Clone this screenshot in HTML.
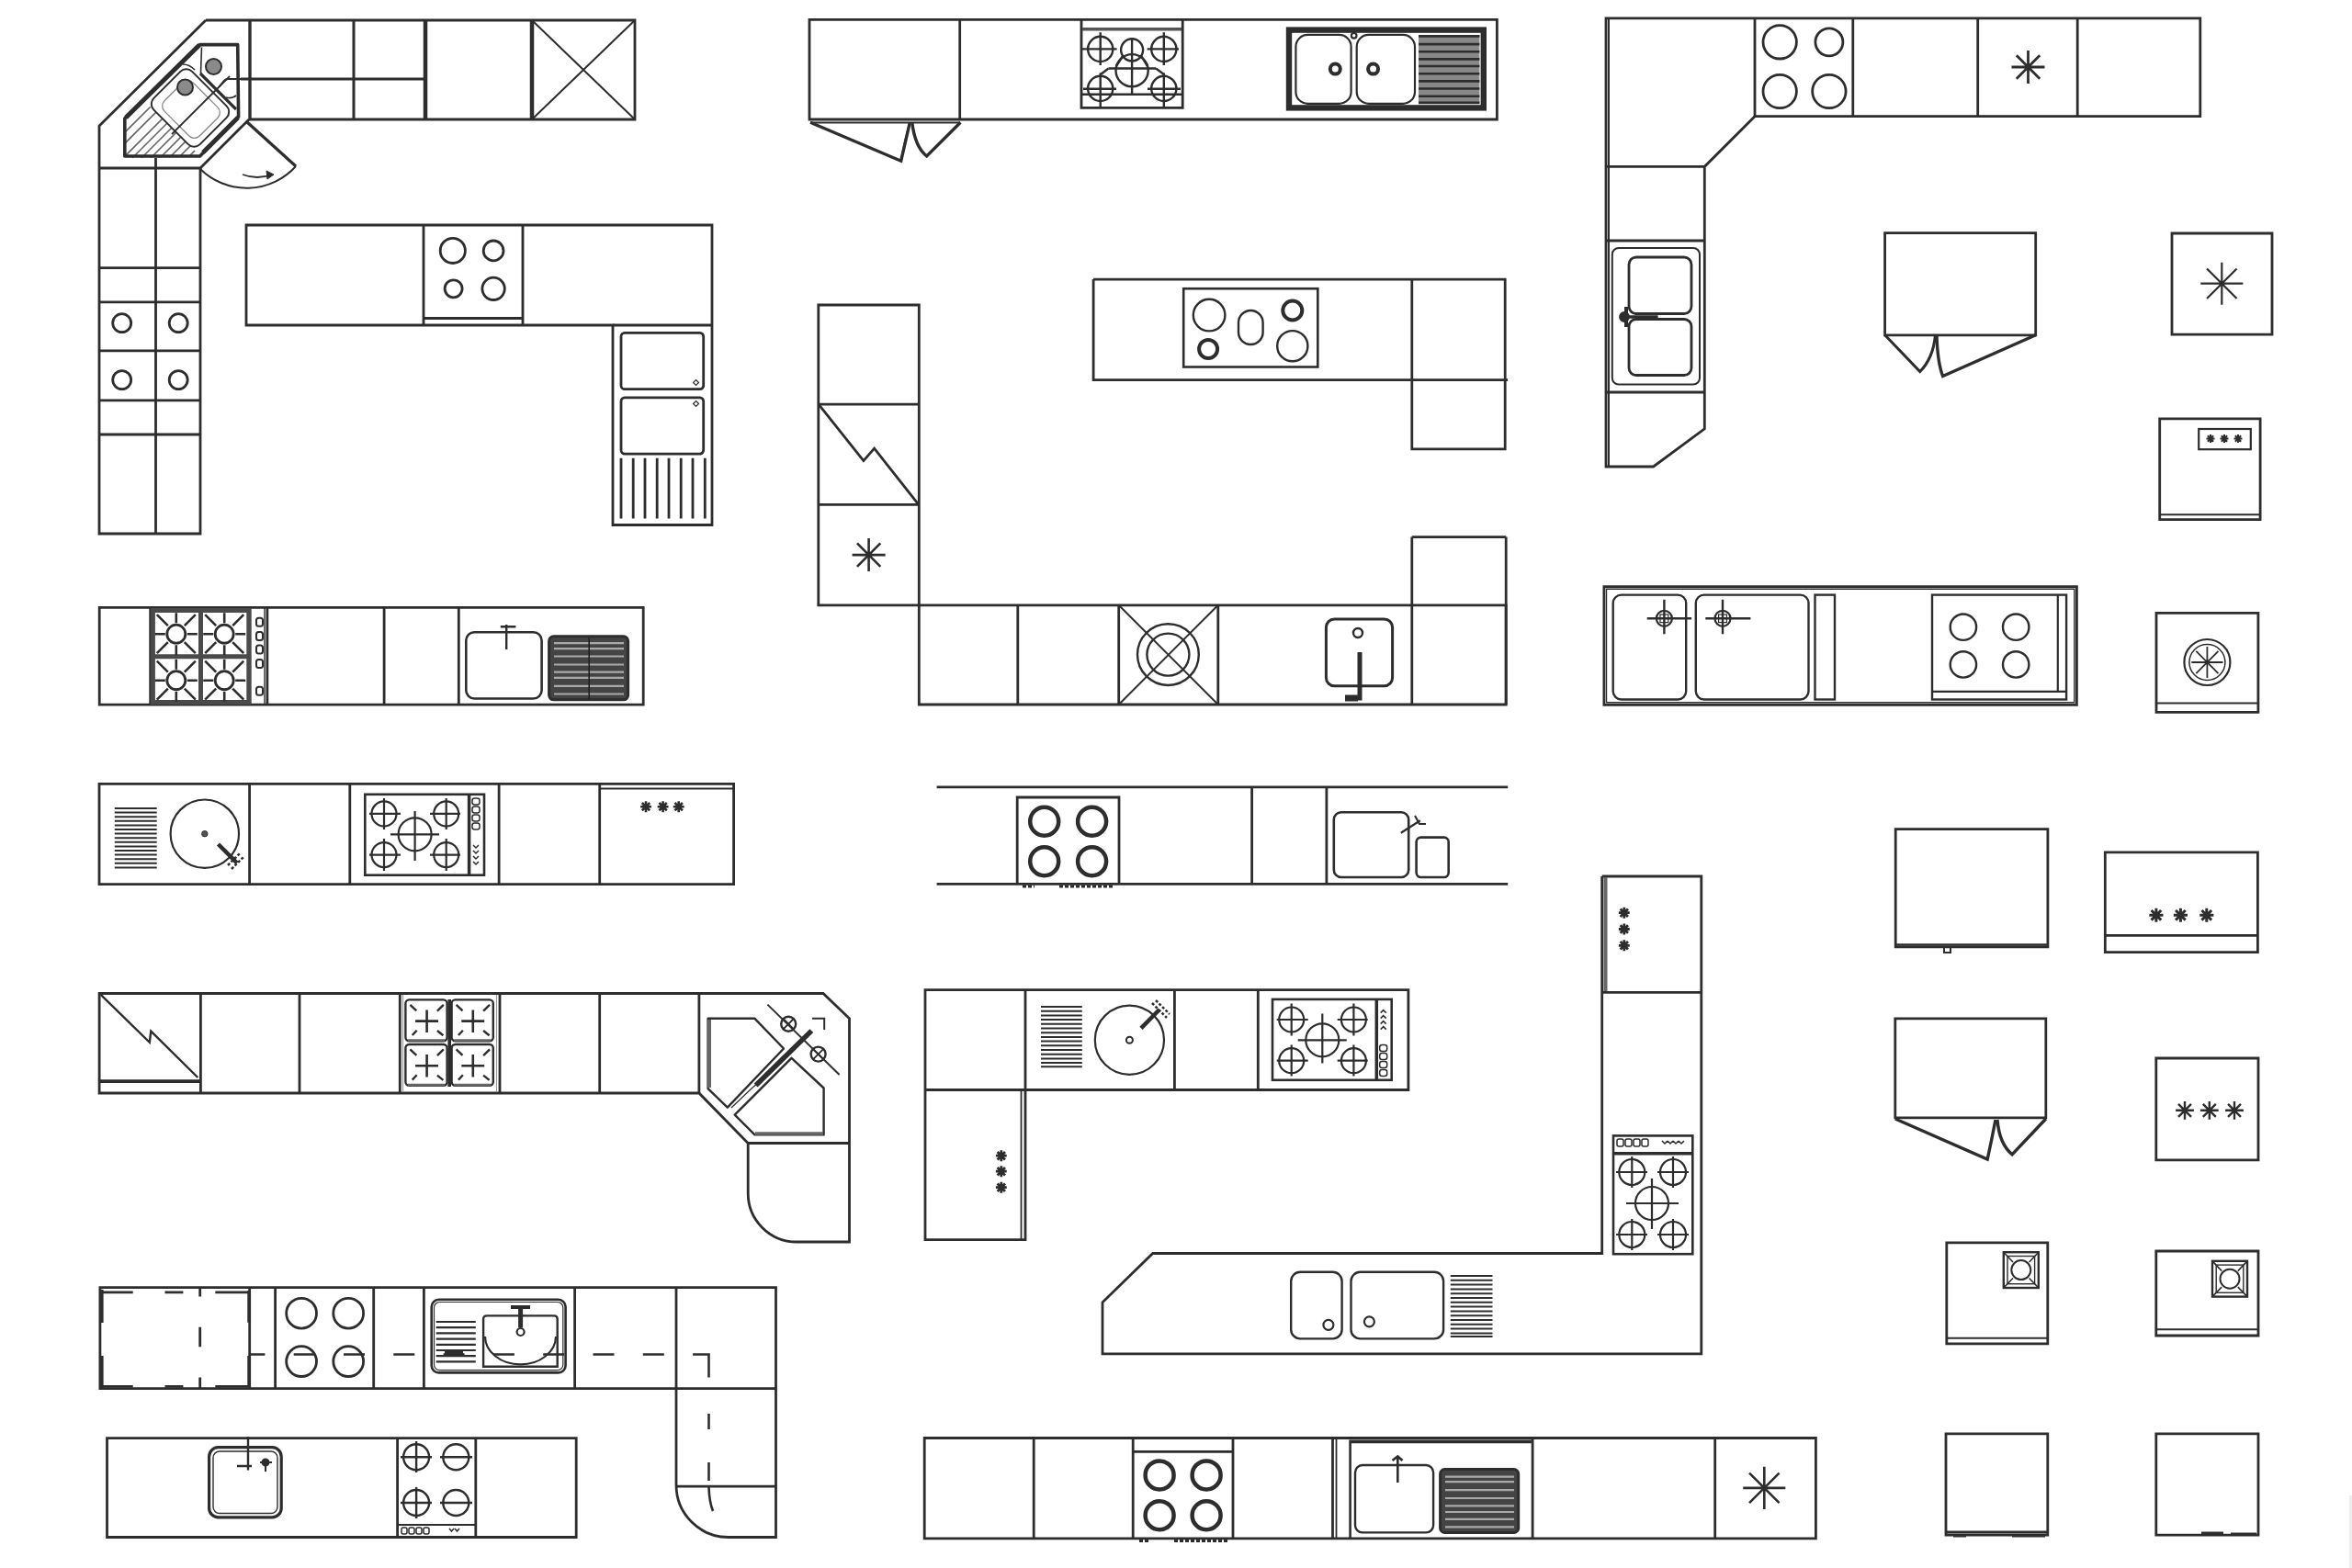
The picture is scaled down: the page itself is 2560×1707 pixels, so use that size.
<!DOCTYPE html>
<html><head><meta charset="utf-8">
<style>
html,body{margin:0;padding:0;background:#fff;width:2560px;height:1707px;overflow:hidden;font-family:"Liberation Sans",sans-serif;}
svg{display:block;position:absolute;left:0;top:0;}
</style></head>
<body>
<svg width="2560" height="1707" viewBox="0 0 2560 1707">
<defs>
<g id="ast"><path vector-effect="non-scaling-stroke" d="M0 -18V18M-18 0H18M-12.7 -12.7L12.7 12.7M-12.7 12.7L12.7 -12.7"/></g>
<g id="burnX"><circle r="13"/><path d="M0 -17V17M-17 0H17"/></g>
</defs>
<g fill="none" stroke="#2d2d2d" stroke-width="2.8" stroke-linejoin="miter">

<!-- ===== A: top-left L with corner sink ===== -->
<path d="M224 22H691V130H271M224 22L108 137V581H218V183"/>
<path d="M271 130L218 183M108 183H218"/>
<path d="M272 22V130" stroke-width="3.4"/>
<path d="M385 22V130" stroke-width="3"/>
<path d="M463 22V130" stroke-width="4.5"/>
<path d="M579 22V130" stroke-width="4.5"/>
<path d="M262 86H463"/>
<path d="M579 22L691 130M691 22L579 130" stroke-width="2"/>
<!-- door -->
<path d="M269 133L322 181" stroke-width="3.2"/>
<path d="M322 181A72 72 0 0 1 218 184" stroke-width="2"/>
<path d="M264 190Q280 196 296 190" stroke-width="1.8"/>
<path d="M290 186L298 190L291 195Z" fill="#2a2a2a" stroke-width="1"/>
<!-- corner sink -->
<clipPath id="hatchA"><path d="M136 129L161 114L212 164L218 170L136 173Z"/></clipPath>
<g clip-path="url(#hatchA)" stroke="#666" stroke-width="1.6">
<path d="M130 150L170 110M130 162L180 112M134 172L190 116M144 172L200 116M154 172L210 116M164 172L220 116M174 172L230 116M184 172L240 116M194 172L250 116M204 172L260 116"/>
</g>
<path d="M217.6 48.6H258.7L259.6 127L217.6 170H135.8V129Z" stroke-width="3.6" stroke-linejoin="round"/>
<path d="M137 128L217 49" stroke-width="5"/>
<path d="M221 166L259 128" stroke-width="5"/>
<path d="M219.5 51.5L218.5 80" stroke-width="1.6"/>
<rect x="-35.5" y="-29.5" width="71" height="59" rx="9" transform="translate(207 117.5) rotate(45)" stroke-width="2"/>
<rect x="-27" y="-22" width="54" height="44" rx="8" transform="translate(208 119) rotate(45)" stroke-width="1.3" stroke="#888"/>
<path d="M187 146L250 83" stroke-width="1.8"/>
<path d="M218 80L257 119" stroke-width="3.2"/>
<path d="M199 70Q206 70 212 76" stroke-width="1.6"/>
<path d="M280 86H248Q245 86 242 90L238 95M246 106Q252 108 257 104" stroke-width="1.8"/>
<circle cx="232.5" cy="72.5" r="8.5" fill="#8a8a8a" stroke-width="2"/>
<circle cx="201.5" cy="95" r="8.5" fill="#8a8a8a" stroke-width="2"/>
<!-- left column -->
<path d="M169.5 172V581"/>
<path d="M108 291.6H218M108 328.8H218M108 381.9H218M108 435.9H218M108 473H218" />
<circle cx="132.7" cy="351.7" r="10"/><circle cx="194.2" cy="351.7" r="10"/>
<circle cx="132.7" cy="413.6" r="10"/><circle cx="194.2" cy="413.6" r="10"/>

<!-- ===== B: counter with hob + sink return ===== -->
<path d="M268 245H775V571.5H667V354H268Z"/>
<path d="M667 354H775"/>
<path d="M461 245V354M569 245V354M461 346.5H569"/>
<circle cx="492.8" cy="272.9" r="13.6"/><circle cx="537.1" cy="272.9" r="10.9"/>
<circle cx="493.6" cy="314.3" r="9.5"/><circle cx="537.1" cy="314.3" r="12.2"/>
<rect x="676" y="362.4" width="89.7" height="61.3" rx="4"/>
<rect x="676" y="432.9" width="89.7" height="61.2" rx="4"/>
<path d="M757.5 413.5l3 3l-3 3l-3 -3zM757.5 436.5l3 3l-3 3l-3 -3z" stroke-width="1.2"/>
<path d="M676 498.7V564.5M689.2 498.7V564.5M702 498.7V564.5M715.2 498.7V564.5M728 498.7V564.5M741.2 498.7V564.5M754 498.7V564.5M767.3 498.7V564.5"/>

<!-- ===== C: top middle counter ===== -->
<path d="M881 21.4H1629.4V130H881Z"/>
<path d="M1044.7 21.4V130"/>
<path d="M882 133.5H1045" stroke-width="2"/>
<path d="M882 133.3L980.7 175.2L990.3 133.3" stroke-width="3.4"/>
<path d="M992.7 133.3Q996 160 1008.6 170L1045.4 133.3" stroke-width="3.4"/>
<path d="M980.7 175Q985 150 990.3 134" stroke-width="1.6"/>
<!-- hob -->
<path d="M1177 21.7V117.4H1287.2V21.7"/>
<path d="M1178 31.8H1286" stroke-width="3.6" stroke="#555"/>
<path d="M1177 102.7H1287.2" stroke-width="2.4"/>
<g stroke-width="2.4">
<circle cx="1197.7" cy="53.4" r="13.6"/><path d="M1197.7 35.3V71.1M1177.7 53.4H1215.6"/>
<circle cx="1266.8" cy="53.4" r="13.6"/><path d="M1266.8 35.3V71.1M1248.6 53.4H1283"/>
<circle cx="1232.1" cy="54.3" r="12"/>
<circle cx="1232.1" cy="76.7" r="17.6"/><path d="M1232.1 43V102.7M1206.5 74.5H1258.1"/>
<circle cx="1197.7" cy="96.4" r="13.6"/><path d="M1197.7 79.5V116M1179 96.7H1215"/>
<circle cx="1266.8" cy="96.4" r="13.6"/><path d="M1266.8 79.5V116M1249 96.7H1285"/>
<path d="M1206.5 74.5L1198 81M1258.1 74.5L1267 81M1222.6 60L1215 72M1241.6 60L1249 72"/>
</g>
<!-- double sink -->
<rect x="1403" y="32.6" width="211.8" height="84.8" stroke-width="6.4"/>
<rect x="1544" y="38" width="66.4" height="75.4" fill="#888" stroke="none"/>
<path d="M1544 39.4H1610.4M1544 48.1H1610.4M1544 56.2H1610.4M1544 64.4H1610.4M1544 72H1610.4M1544 80.2H1610.4M1544 88.4H1610.4M1544 96.5H1610.4M1544 104.7H1610.4M1544 111.8H1610.4" stroke-width="2.6"/>
<rect x="1410.4" y="37.9" width="60.2" height="75" rx="13" stroke-width="2.2"/>
<rect x="1476.7" y="37.9" width="63.3" height="75" rx="13" stroke-width="2.2"/>
<circle cx="1453.3" cy="75.1" r="5.5" stroke-width="4"/>
<circle cx="1494.6" cy="75.1" r="5.5" stroke-width="4"/>
<circle cx="1473.7" cy="38.8" r="2.8" stroke-width="2.2"/>

<!-- ===== D: top right L ===== -->
<path d="M1748 19.9H2394.8V126.7H1910L1855.3 181.4V466.9L1799.6 508H1748Z"/>
<path d="M1751 21V507" stroke-width="2"/>
<path d="M1910 19.9V126.7M2016.8 19.9V126.7M2152.7 19.9V126.7M2261.2 19.9V126.7"/>
<path d="M1748 181.4H1855.3M1748 262H1855.3M1748 427H1855.3"/>
<circle cx="1937.2" cy="45.8" r="18.2"/><circle cx="1990.9" cy="45.8" r="15"/>
<circle cx="1937.2" cy="99.5" r="18.2"/><circle cx="1990.9" cy="99.5" r="18.2"/>
<use href="#ast" transform="translate(2207.5 73)" stroke-width="2.8"/>
<rect x="1754.8" y="270" width="95.2" height="148.5" rx="7" stroke-width="2"/>
<rect x="1773" y="280" width="68" height="61.5" rx="8"/>
<rect x="1773" y="347.5" width="68" height="61" rx="8"/>
<path d="M1768 345H1804.6" stroke-width="3.5"/>
<circle cx="1768" cy="345" r="4.5" fill="#2a2a2a"/>
<path d="M1770 334V356" stroke-width="4"/>

<!-- ===== E: right column top ===== -->
<path d="M2051.6 253.7H2215.7V364.8H2051.6Z"/>
<path d="M2051.6 364.8L2089.8 404.5Q2104 390 2106.3 366" stroke-width="3"/>
<path d="M2108 366Q2109 395 2114.6 409.5L2215.7 364.8" stroke-width="3.4"/>
<path d="M2364 254H2473V364.2H2364Z"/>
<use href="#ast" transform="translate(2418.3 308.7) scale(1.28)" stroke-width="2.2"/>
<path d="M2350.7 455.9H2460.1V565.7H2350.7Z"/>
<path d="M2350.7 560.2H2460.1" stroke-width="2"/>
<rect x="2393.2" y="467" width="56.6" height="22.2" stroke-width="2.2"/>
<g stroke-width="2"><use href="#ast" transform="translate(2406 477.5) scale(.25)"/><use href="#ast" transform="translate(2421 477.5) scale(.25)"/><use href="#ast" transform="translate(2436 477.5) scale(.25)"/></g>
<path d="M2347 667.4H2457.9V775.4H2347Z"/>
<path d="M2347 765.4H2457.9" stroke-width="2"/>
<circle cx="2402.4" cy="721" r="25" stroke-width="2.2"/>
<circle cx="2402.4" cy="721" r="19.5" stroke-width="1.5"/>
<use href="#ast" transform="translate(2402.4 721) scale(.95)" stroke-width="1.8"/>


<!-- ===== F: middle U ===== -->
<path d="M890.8 332H1000.3V658.8H890.8Z"/>
<path d="M890.8 440.2H1000.3M890.8 549.3H1000.3"/>
<path d="M891.8 441.2L939.9 501.6L951.6 488.2L999.3 548.6"/>
<use href="#ast" transform="translate(945.6 604.1)" stroke-width="2.6"/>
<path d="M1000.3 658.8H1639.2V767H1000.3Z"/>
<path d="M1107.8 658.8V767M1217.7 658.8V767M1325.8 658.8V767M1536.8 584.6V767M1639.2 584.6V767M1536.8 584.6H1639.2"/>
<path d="M1217.7 658.8L1325.8 767M1325.8 658.8L1217.7 767" stroke-width="2"/>
<circle cx="1271.4" cy="712.6" r="33.4" stroke-width="2.4"/>
<circle cx="1271.4" cy="712.6" r="23" stroke-width="2.4"/>
<rect x="1443.4" y="674" width="72.2" height="72.8" rx="9" stroke-width="3"/>
<circle cx="1478" cy="689" r="5" stroke-width="2.4"/>
<path d="M1480 710V760H1464" stroke-width="5"/>
<path d="M1464 760H1478" stroke-width="7"/>
<!-- island with hob -->
<path d="M1190.1 304.1H1638.2V488.9H1536.8V304.1M1190.1 304.1V413.6H1641"/>
<rect x="1288.2" y="314.2" width="146.1" height="85.3" stroke-width="2.6"/>
<circle cx="1316.1" cy="343.1" r="17.3" stroke-width="2.4"/>
<circle cx="1406.8" cy="338" r="10.5" stroke-width="4"/>
<circle cx="1315.1" cy="380" r="10" stroke-width="4"/>
<circle cx="1406.8" cy="376.7" r="16.6" stroke-width="2.4"/>
<rect x="1348" y="338" width="26.6" height="37" rx="13.3" stroke-width="2.4"/>

<!-- ===== G: row 3 left ===== -->
<path d="M108.2 661.4H700.2V767.2H108.2Z"/>
<path d="M163.7 661.4V767.2M272.1 661.4V767.2M290.9 661.4V767.2M418.1 661.4V767.2M499.3 661.4V767.2"/>
<rect x="166.4" y="664.5" width="104.4" height="100" stroke="#4a4a4a" stroke-width="5"/>
<path d="M218.5 664.5V764.5M166.4 714.7H270.8" stroke="#4a4a4a" stroke-width="5"/>
<circle cx="191.8" cy="690.2" r="10" stroke-width="2.8"/>
<circle cx="244.2" cy="690.2" r="10" stroke-width="2.8"/>
<circle cx="191.8" cy="740.7" r="10" stroke-width="2.8"/>
<circle cx="244.2" cy="740.7" r="10" stroke-width="2.8"/>
<path d="M191.8 667.2V678.2M191.8 702.2V713.2M168.8 690.2H179.8M203.8 690.2H214.8M170.8 669.2L182.8 681.2M212.8 669.2L200.8 681.2M170.8 711.2L182.8 699.2M212.8 711.2L200.8 699.2M244.2 667.2V678.2M244.2 702.2V713.2M221.2 690.2H232.2M256.2 690.2H267.2M223.2 669.2L235.2 681.2M265.2 669.2L253.2 681.2M223.2 711.2L235.2 699.2M265.2 711.2L253.2 699.2M191.8 717.7V728.7M191.8 752.7V763.7M168.8 740.7H179.8M203.8 740.7H214.8M170.8 719.7L182.8 731.7M212.8 719.7L200.8 731.7M170.8 761.7L182.8 749.7M212.8 761.7L200.8 749.7M244.2 717.7V728.7M244.2 752.7V763.7M221.2 740.7H232.2M256.2 740.7H267.2M223.2 719.7L235.2 731.7M265.2 719.7L253.2 731.7M223.2 761.7L235.2 749.7M265.2 761.7L253.2 749.7" stroke-width="2.6"/>
<g stroke-width="2"><rect x="279" y="672.7" width="7" height="9" rx="2.5"/><rect x="279" y="688.0" width="7" height="9" rx="2.5"/><rect x="279" y="702.6" width="7" height="9" rx="2.5"/><rect x="279" y="717.9" width="7" height="9" rx="2.5"/><rect x="279" y="747.7" width="7" height="9" rx="2.5"/></g>
<path d="M288 661.4V767.2" stroke-width="1.4"/>
<rect x="507.3" y="688.2" width="82.3" height="72.3" rx="9" stroke-width="2.6"/>
<path d="M551.2 680V707M544.8 682.3H561.4" stroke-width="2.4"/>
<rect x="597.6" y="692.8" width="86" height="69" rx="5" stroke-width="3" fill="#444"/>
<g stroke-width="2.2" stroke="#aaa">
<path d="M603 700.2H679M603 706.1H679M603 714.5H679M603 723.5H679M603 731.6H679M603 737.8H679M603 746.8H679M603 755.5H679"/>
</g>
<path d="M641.2 694V761" stroke-width="1.6" stroke="#222"/>


<!-- ===== H: row 4 left ===== -->
<path d="M108 853.3H798.6V962.6H108Z"/>
<path d="M271.6 853.3V962.6M380.8 853.3V962.6M543.1 853.3V962.6M652.7 853.3V962.6"/>
<path d="M652.7 858.6H798.6" stroke-width="2"/>
<path d="M124.8 880H170.7M124.8 884.6H170.7M124.8 889.2H170.7M124.8 893.8H170.7M124.8 898.4H170.7M124.8 903H170.7M124.8 907.6H170.7M124.8 912.2H170.7M124.8 916.8H170.7M124.8 921.4H170.7M124.8 926H170.7M124.8 930.6H170.7M124.8 935.2H170.7M124.8 939.8H170.7M124.8 944.4H170.7" stroke-width="2"/>
<circle cx="222.8" cy="907.7" r="37.2" stroke-width="2.2"/>
<circle cx="222.8" cy="907.7" r="3.2" fill="#555" stroke-width="1"/>
<path d="M237.5 919L258 939.5" stroke-width="4.5"/>
<path d="M252 946L266 932M248 942L262 928" stroke-width="2.5" stroke-dasharray="3 2"/>
<g id="hob5">
<rect x="397.3" y="864.8" width="129.7" height="87.9" stroke-width="2.6"/>
<path d="M510.6 864.8V952.7" stroke-width="3.5"/>
<g stroke-width="2.2">
<circle cx="418" cy="885.9" r="13.5"/><path d="M418 869V903M402 885.9H436"/>
<circle cx="485.7" cy="885.9" r="13.5"/><path d="M485.7 869V903M468 885.9H501"/>
<circle cx="451.6" cy="908.3" r="18"/><path d="M451.6 883V937M425 908.3H478"/>
<circle cx="418" cy="930.6" r="13.5"/><path d="M418 913V948M402 930.6H436"/>
<circle cx="485.7" cy="930.6" r="13.5"/><path d="M485.7 913V948M468 930.6H501"/>
</g>
<g stroke-width="1.5">
<rect x="514" y="869" width="8" height="7" rx="2.5"/><rect x="514" y="878" width="8" height="7" rx="2.5"/>
<rect x="514" y="887" width="8" height="7" rx="2.5"/><rect x="514" y="896" width="8" height="7" rx="2.5"/>
<path d="M515 920l3 3l3 -3M515 926l3 3l3 -3M515 932l3 3l3 -3M515 938l3 3l3 -3"/>
</g>
</g>
<g stroke-width="2.6"><use href="#ast" transform="translate(703 878.2) scale(.33)"/><use href="#ast" transform="translate(721.6 878.2) scale(.33)"/><use href="#ast" transform="translate(738.7 878.2) scale(.33)"/></g>

<!-- ===== I: row 4 middle ===== -->
<path d="M1019.6 856.8H1641.2M1019.6 962.3H1641.2"/>
<path d="M1362.6 856.8V962.3M1443.9 856.8V962.3"/>
<path d="M1107.2 962V868H1218V962"/>
<g stroke-width="4.5">
<circle cx="1136.7" cy="894.2" r="15.5"/><circle cx="1188.6" cy="894.2" r="15.5"/>
<circle cx="1136.7" cy="937.7" r="15.5"/><circle cx="1188.6" cy="937.7" r="15.5"/>
</g>
<path d="M1113 965H1126M1153 965H1213" stroke-width="3" stroke-dasharray="4 2"/>
<rect x="1451.8" y="884.3" width="81.4" height="70.7" rx="8" stroke-width="2.6"/>
<rect x="1541.6" y="911.6" width="35.1" height="43.4" rx="5" stroke-width="2.6"/>
<path d="M1524.8 906.8L1545.8 893.3M1540 888L1545 897L1552 897" stroke-width="2.2"/>

<!-- ===== J: right column mid ===== -->
<path d="M2063.2 902.6H2228.9V1030.9H2063.2Z"/>
<path d="M2063.2 1028.5H2228.9" stroke-width="2.5"/>
<path d="M2116 1030.5V1037H2123V1030.5" stroke-width="2"/>
<path d="M2291.3 927.8H2457.4V1036.7H2291.3Z"/>
<path d="M2291.3 1018.3H2457.4"/>
<g stroke-width="3"><use href="#ast" transform="translate(2346.9 996.3) scale(.42)"/><use href="#ast" transform="translate(2373.4 996.3) scale(.42)"/><use href="#ast" transform="translate(2401.8 996.3) scale(.42)"/></g>


<!-- ===== K: row 5 left L with corner sink ===== -->
<path d="M108.1 1081.5H896L924.5 1108.8V1352H867A53 53 0 0 1 814.2 1299V1244.5L760.9 1190H108.1Z"/>
<path d="M814.2 1244.5H924.5" stroke-width="3.2"/>
<path d="M218.4 1081.5V1190.1M326 1081.5V1190.1M435.3 1081.5V1190.1M544 1081.5V1190.1M652.7 1081.5V1190.1M760.9 1081.5V1190.1"/>
<path d="M109.7 1082.8L162.8 1134.8L164.3 1122.6L215.3 1173" stroke-width="2.4"/>
<path d="M108.1 1177.1H217.2" stroke-width="3.8"/>
<path d="M438.5 1083V1189M540.5 1083V1189" stroke-width="1.2" stroke="#999"/>
<g id="sq1">
<rect x="441.4" y="1088.4" width="45.2" height="44.8" rx="4" stroke-width="2.4"/>
<path d="M444 1132.5H484" stroke-width="2.6" stroke="#666"/>
<path d="M452.1 1111.6H477M464.6 1099.5V1124" stroke-width="2.6"/>
<path d="M446.4 1093.8L453.3 1100.3M482.8 1093.8L475.9 1100.6M453.7 1121.7L448.7 1127M475.9 1122L482.4 1127.3" stroke-width="2.4"/>
</g>
<use href="#sq1" transform="translate(50.2 0)"/>
<use href="#sq1" transform="translate(0 48.6)"/>
<use href="#sq1" transform="translate(50.2 48.6)"/>
<path d="M489.2 1088V1183" stroke-width="3.6"/>
<path d="M770.6 1108.8H821.5L853 1141.5L791.8 1205.7L770.6 1185.1Z" stroke-width="2.4" stroke-linejoin="round"/>
<path d="M772 1110V1184" stroke-width="4" stroke="#666"/>
<path d="M861.5 1151.8L896.6 1184.5V1235.4H821.5L799.7 1213.6Z" stroke-width="2.4" stroke-linejoin="round"/>
<path d="M822 1234H896" stroke-width="3.5" stroke="#666"/>
<path d="M822.7 1181.5L883.3 1122.1" stroke-width="5.5"/>
<path d="M818 1185L826 1178M796 1206L818 1185" stroke-width="1.2"/>
<path d="M835.4 1093.6L913.6 1170" stroke-width="2"/>
<circle cx="858.2" cy="1114.8" r="8" stroke-width="2.4"/>
<path d="M852.5 1109l11.4 11.4M863.9 1109l-11.4 11.4" stroke-width="1.8"/>
<circle cx="890.6" cy="1147.6" r="8" stroke-width="2.4"/>
<path d="M884.9 1141.9l11.4 11.4M896.3 1141.9l-11.4 11.4" stroke-width="1.8"/>
<path d="M883.9 1108.8H897.2V1120.9" stroke-width="2"/>

<!-- ===== L: row 5 middle L ===== -->
<path d="M1007 1077.7H1532.9V1186.5H1116V1349.6H1007Z"/>
<path d="M1007 1186.5H1116M1116 1077.7V1186.5M1278.4 1077.7V1186.5M1369.3 1077.7V1186.5"/>
<path d="M1111.5 1186.5V1349.6" stroke-width="1.8"/>
<g stroke-width="2.8"><use href="#ast" transform="translate(1089.8 1258.2) scale(.33)"/><use href="#ast" transform="translate(1089.8 1275.2) scale(.33)"/><use href="#ast" transform="translate(1089.8 1292.7) scale(.33)"/></g>
<path d="M1133 1096H1177.8M1133 1100.7H1177.8M1133 1105.4H1177.8M1133 1110.1H1177.8M1133 1114.8H1177.8M1133 1119.5H1177.8M1133 1124.2H1177.8M1133 1128.9H1177.8M1133 1133.6H1177.8M1133 1138.3H1177.8M1133 1143H1177.8M1133 1147.7H1177.8M1133 1152.4H1177.8M1133 1157.1H1177.8M1133 1161.3H1177.8" stroke-width="2"/>
<circle cx="1229.4" cy="1132.2" r="37.6" stroke-width="2.2"/>
<circle cx="1229.4" cy="1132.2" r="3.5" stroke-width="2"/>
<path d="M1242 1119.4L1262 1099" stroke-width="4.5"/>
<path d="M1254 1092L1270 1108M1258 1089L1273 1104" stroke-width="2.5" stroke-dasharray="3 2"/>
<use href="#hob5" transform="translate(987.7 2040.6) scale(1 -1)"/>

<!-- ===== M: big right L ===== -->
<path d="M1743.7 954H1851.8V1473.9H1200V1417.8L1254.7 1364.5H1743.7V954"/>
<path d="M1743.7 1080.3H1851.8"/>
<path d="M1747.5 955V1079" stroke-width="4" stroke="#666"/>
<g stroke-width="2.8"><use href="#ast" transform="translate(1767.8 993.7) scale(.33)"/><use href="#ast" transform="translate(1767.8 1011.5) scale(.33)"/><use href="#ast" transform="translate(1767.8 1029.3) scale(.33)"/></g>
<rect x="1756" y="1236.4" width="86.3" height="128.8" stroke-width="2.6"/>
<path d="M1756 1255.7H1842.3" stroke-width="3.5"/>
<g stroke-width="1.5">
<rect x="1760" y="1240" width="7" height="8" rx="2"/><rect x="1769" y="1240" width="7" height="8" rx="2"/><rect x="1778" y="1240" width="7" height="8" rx="2"/><rect x="1787" y="1240" width="7" height="8" rx="2"/>
<path d="M1809 1242l3 3l3 -3M1815 1242l3 3l3 -3M1821 1242l3 3l3 -3M1827 1242l3 3l3 -3"/>
</g>
<g stroke-width="2.2">
<circle cx="1776.3" cy="1276" r="14"/><path d="M1776.3 1259V1293M1759 1276H1793"/>
<circle cx="1821" cy="1276" r="14"/><path d="M1821 1259V1293M1804 1276H1838"/>
<circle cx="1798" cy="1310" r="18"/><path d="M1798 1283V1338M1770 1310H1827"/>
<circle cx="1776.3" cy="1344" r="14"/><path d="M1776.3 1327V1361M1759 1344H1793"/>
<circle cx="1821" cy="1344" r="14"/><path d="M1821 1327V1361M1804 1344H1838"/>
</g>
<rect x="1405.2" y="1384.8" width="55.4" height="72.6" rx="10" stroke-width="2.4"/>
<rect x="1470.5" y="1384.8" width="100.6" height="72.6" rx="10" stroke-width="2.4"/>
<circle cx="1445.9" cy="1442.3" r="5.5" stroke-width="2.2"/>
<circle cx="1490.4" cy="1438.8" r="5.5" stroke-width="2.2"/>
<path d="M1578.8 1389H1624.5M1578.8 1393.8H1624.5M1578.8 1398.6H1624.5M1578.8 1403.4H1624.5M1578.8 1408.2H1624.5M1578.8 1413H1624.5M1578.8 1417.8H1624.5M1578.8 1422.6H1624.5M1578.8 1427.4H1624.5M1578.8 1432.2H1624.5M1578.8 1437H1624.5M1578.8 1441.8H1624.5M1578.8 1446.6H1624.5M1578.8 1451.4H1624.5M1578.8 1455H1624.5" stroke-width="2"/>


<!-- ===== N: row 6 left L ===== -->
<path d="M108.9 1401.6H844.5V1673.5H793A57 57 0 0 1 736 1616.5V1511.7H108.9Z"/>
<path d="M736 1618.1H844.5M736 1401.6V1511.7H844.5"/>
<path d="M271.7 1401.6V1511.7M299.6 1401.6V1511.7M406.7 1401.6V1511.7M461.4 1401.6V1511.7M625.6 1401.6V1511.7"/>
<g stroke-width="2.8">
<path d="M110.6 1406.9H144.7M179.5 1406.9H199.4M234.3 1406.9H270.7M110.6 1509.3H144.7M179.5 1509.3H199.4M234.3 1509.3H270.7"/>
<path d="M270.7 1404.9V1439.7M270.7 1476V1509.3"/>
<path d="M217.7 1401.6V1411.5M217.7 1444.7V1466.2M217.7 1499.4V1511"/>
<path d="M110.6 1404V1440M110.6 1476V1511" stroke-width="4"/>
</g>
<path d="M271.7 1474.5H757" stroke-width="2.6" stroke-dasharray="23 31.3" stroke-dashoffset="6.3"/>
<path d="M757 1474.5H771.5V1499.4M771.5 1539V1556M771.5 1592V1612M771.5 1619Q772 1635 776 1645" stroke-width="2.6"/>
<circle cx="328.1" cy="1429.7" r="16.4"/><circle cx="379.2" cy="1429.7" r="16.4"/>
<circle cx="328.1" cy="1482.1" r="16.4"/><circle cx="379.2" cy="1482.1" r="16.4"/>
<rect x="469.7" y="1414.8" width="145.9" height="79.6" rx="8" stroke-width="2.6"/>
<rect x="472.5" y="1417.5" width="140.3" height="74.2" rx="6" stroke-width="1.2"/>
<path d="M474.7 1439H517.8M474.7 1445.2H517.8M474.7 1451.4H517.8M474.7 1457.6H517.8M474.7 1463.8H517.8M474.7 1470H517.8M474.7 1476.2H517.8M474.7 1482.4H517.8" stroke-width="2.2"/>
<path d="M484 1472H504" stroke-width="4"/>
<path d="M526.1 1487.8V1436Q526.1 1432.4 530 1432.4H603Q606.7 1432.4 606.7 1436V1487.8Z" stroke-width="2.4"/>
<path d="M528 1455A38 30 0 0 0 605 1455" stroke-width="2.2"/>
<path d="M566.6 1425V1445" stroke-width="5"/>
<circle cx="566.6" cy="1450" r="4" stroke-width="2.2"/>
<path d="M556 1423H577" stroke-width="4"/>
<path d="M116.5 1565.7H627.2V1673.5H116.5Z"/>
<path d="M432.6 1565.7V1673.5M517.8 1565.7V1673.5"/>
<path d="M432.6 1660H517.8" stroke-width="2"/>
<rect x="227.6" y="1575.7" width="78.6" height="76.2" rx="10" stroke-width="3.2"/>
<rect x="232" y="1580" width="70" height="67.5" rx="7" stroke-width="1.4"/>
<path d="M270 1564V1600.5M258 1596H274" stroke-width="2.4"/>
<circle cx="289" cy="1592" r="3.5" fill="#2a2a2a" stroke-width="2"/>
<path d="M283 1592H296M289 1588V1602" stroke-width="2"/>
<g stroke-width="2.4">
<circle cx="453.1" cy="1586.3" r="14"/><path d="M453.1 1569V1603M436 1586.3H470"/>
<circle cx="496.3" cy="1586.3" r="14"/><path d="M479 1586.3H514"/>
<circle cx="453.1" cy="1636" r="14"/><path d="M453.1 1619V1653M436 1636H470"/>
<circle cx="496.3" cy="1636" r="14"/><path d="M479 1636H514"/>
</g>
<g stroke-width="1.5">
<rect x="437" y="1663" width="6" height="7" rx="2"/><rect x="445" y="1663" width="6" height="7" rx="2"/><rect x="453" y="1663" width="6" height="7" rx="2"/><rect x="461" y="1663" width="6" height="7" rx="2"/>
<path d="M489 1664l2.5 3l2.5 -3M495 1664l2.5 3l2.5 -3"/>
</g>

<!-- ===== O: row 6 middle ===== -->
<path d="M1006.2 1565.5H1976.4V1674.8H1006.2Z"/>
<path d="M1125.2 1565.5V1674.8M1233.2 1565.5V1674.8M1342 1565.5V1674.8M1450.5 1565.5V1674.8M1668.1 1565.5V1674.8M1866.7 1565.5V1674.8"/>
<path d="M1454.5 1565.5V1674.8" stroke-width="1.8"/>
<path d="M1233.2 1580.4H1342"/>
<g stroke-width="4.5">
<circle cx="1262.1" cy="1605.9" r="15.5"/><circle cx="1313.1" cy="1605.9" r="15.5"/>
<circle cx="1262.1" cy="1649.7" r="15.5"/><circle cx="1313.1" cy="1649.7" r="15.5"/>
</g>
<path d="M1240 1677.5H1252M1278 1677.5H1338" stroke-width="3" stroke-dasharray="4 2"/>
<path d="M1469.6 1674.8V1568.9H1666.9" stroke-width="2.6"/>
<path d="M1469.6 1570.5H1666.9" stroke-width="1.5"/>
<rect x="1475" y="1595" width="85.1" height="73.4" rx="8" stroke-width="2.4"/>
<path d="M1521.3 1587V1614M1515.5 1590L1521.3 1585.5L1526.5 1590" stroke-width="2.6"/>
<rect x="1567.6" y="1599.6" width="85.1" height="68.8" rx="5" stroke-width="3" fill="#444"/>
<g stroke-width="2.2" stroke="#aaa"><path d="M1573 1607.6H1648M1573 1613.2H1648M1573 1622.1H1648M1573 1631H1648M1573 1639.4H1648M1573 1646H1648M1573 1653.9H1648M1573 1662.3H1648"/></g>
<use href="#ast" transform="translate(1920.3 1619.9) scale(1.28)" stroke-width="2.6"/>

<!-- ===== P: right column bottom ===== -->
<path d="M2062.8 1108.8H2226.8V1216.8H2062.8Z"/>
<path d="M2062.8 1218L2163.2 1262Q2168 1240 2172 1219" stroke-width="3.4"/>
<path d="M2174 1219Q2176 1245 2190 1256.8L2226.8 1218" stroke-width="3.4"/>
<path d="M2346.8 1152H2458V1262.8H2346.8Z"/>
<g stroke-width="2.4"><use href="#ast" transform="translate(2378 1208.8) scale(.55)"/><use href="#ast" transform="translate(2404.8 1208.8) scale(.55)"/><use href="#ast" transform="translate(2432 1208.8) scale(.55)"/></g>
<path d="M2118.8 1352.8H2228.8V1462.8H2118.8Z"/>
<path d="M2118.8 1456.8H2228.8" stroke-width="2"/>
<g id="gsq">
<rect x="2180.8" y="1363.2" width="38" height="38.8" stroke-width="2.4"/>
<rect x="2185" y="1367.5" width="29.6" height="30.2" stroke-width="1.4"/>
<circle cx="2199.8" cy="1382.6" r="10.5" stroke-width="2"/>
<path d="M2181 1363.5L2191 1374M2218.6 1363.5L2208.6 1374M2181 1401.8L2191 1391.5M2218.6 1401.8L2208.6 1391.5" stroke-width="1.6"/>
</g>
<path d="M2346.8 1362H2458V1454H2346.8Z"/>
<path d="M2346.8 1447.2H2458" stroke-width="2"/>
<use href="#gsq" transform="translate(227.2 9.6)"/>
<path d="M2118 1560.8H2228.8V1671.2H2118Z"/>
<path d="M2118 1668H2228.8" stroke-width="3"/>
<path d="M2126 1672H2140M2190 1672H2226" stroke-width="3"/>
<path d="M2346.8 1560.8H2458V1671.2H2346.8Z"/>
<path d="M2396 1669H2420M2428 1670H2456" stroke-width="3"/>


<!-- ===== Q: right sink+hob counter ===== -->
<path d="M1745.9 638.7H2260.4V767.3H1745.9Z" stroke-width="2.8"/>
<path d="M1748.5 641.3H2257.8V764.7H1748.5Z" stroke-width="1.4"/>
<rect x="1755.7" y="647.6" width="79.5" height="113.9" rx="9" stroke-width="2.4"/>
<rect x="1845.8" y="647.6" width="122.7" height="113.9" rx="9" stroke-width="2.4"/>
<rect x="1975.5" y="647.6" width="21.5" height="113.9" stroke-width="2.4"/>
<path d="M1792.7 673.3H1841.1M1811.4 652.7V690.2M1856.3 673.3H1905.4M1875 652.7V690.2" stroke-width="2.4"/>
<circle cx="1811.4" cy="673.3" r="8.5" stroke-width="2.2"/>
<circle cx="1875" cy="673.3" r="8.5" stroke-width="2.2"/>
<rect x="1807" y="669" width="8.8" height="8.6" stroke-width="1.2"/>
<rect x="1870.6" y="669" width="8.8" height="8.6" stroke-width="1.2"/>
<rect x="2103" y="647.6" width="146.1" height="113.9" stroke-width="2.4"/>
<path d="M2239.8 647.6V752.8M2103 752.8H2249.1" stroke-width="2.2"/>
<circle cx="2136.9" cy="682.7" r="14.2" stroke-width="2.4"/><circle cx="2194.2" cy="682.7" r="14.2" stroke-width="2.4"/>
<circle cx="2136.9" cy="723.4" r="14.2" stroke-width="2.4"/><circle cx="2194.2" cy="723.4" r="14.2" stroke-width="2.4"/>


<path d="M2558.5 1628V1707" stroke="#eee" stroke-width="3"/>

</g>
</svg>
</body></html>
